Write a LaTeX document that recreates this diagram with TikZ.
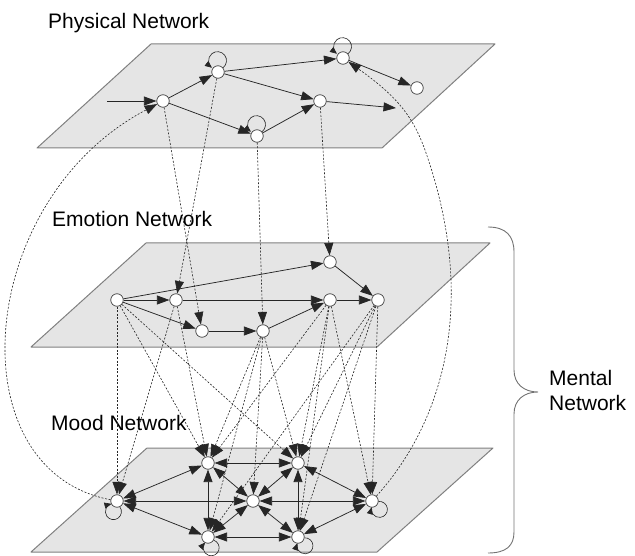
\documentclass[tikz,border=0pt]{standalone}
\usepackage{fontspec}
\setmainfont{Liberation Sans}
\usetikzlibrary{arrows.meta}
\begin{document}
\begin{tikzpicture}[x=1pt,y=-1pt,
  plane/.style={fill=black!10, draw=black!50, line width=1pt, line join=round},
  nd/.style={circle, draw=black!75, fill=white, line width=0.7pt, minimum size=12.5pt, inner sep=0pt},
  sedge/.style={draw=black!85, line width=0.75pt, -{Triangle[length=12.5pt,width=9pt]}},
  bedge/.style={draw=black!85, line width=0.75pt, {Triangle[length=12.5pt,width=9pt]}-{Triangle[length=12.5pt,width=9pt]}},
  dedge/.style={draw=black!85, line width=0.6pt, dash pattern=on 2pt off 1.6pt, -{Triangle[length=12.5pt,width=9pt]}},
  selfloop/.style={draw=black!85, line width=0.6pt, -{Triangle[length=7pt,width=6pt]}},
  lbl/.style={font=\fontsize{21}{24.8}\selectfont, inner sep=0pt},
  brace/.style={draw=black!55, line width=0.9pt}
]
\useasboundingbox (0,0) rectangle (635,556);
% planes
\path[plane] (151,44) -- (495,44) -- (382,148) -- (37,148) -- cycle;
\path[plane] (146,243) -- (490,243) -- (377,347) -- (31,347) -- cycle;
\path[plane] (147,448) -- (493,448) -- (377,552) -- (31,552) -- cycle;
% labels
\node[lbl, anchor=base west] (lphys) at (48,29) {Physical Network};
\node[lbl, anchor=base west] (lemo) at (52,227) {Emotion Network};
\node[lbl, anchor=base west] (lmood) at (51,430) {Mood Network};
\node[lbl, anchor=north west, align=left] (lment) at (549,370.5) {Mental\\Network};
% brace
\draw[brace] (488,227) .. controls (506,227) and (514,236) .. (514,252) -- (514,370)
  .. controls (514,384) and (524,392) .. (538,392)
  .. controls (524,392) and (514,400) .. (514,414) -- (514,532)
  .. controls (514,546) and (506,553) .. (488,553);
% physical nodes
\node[nd] (P1) at (163,101) {};
\node[nd] (P2) at (218,72) {};
\node[nd] (P3) at (343,58) {};
\node[nd] (P4) at (417,88) {};
\node[nd] (P5) at (320,101) {};
\node[nd] (P6) at (257,136) {};
\coordinate (Pin) at (107,101);
\coordinate (Pout) at (396,108);
% emotion nodes
\node[nd] (E1) at (117,300) {};
\node[nd] (E2) at (176,300) {};
\node[nd] (E3) at (202,331) {};
\node[nd] (E4) at (263,331) {};
\node[nd] (E5) at (330,300) {};
\node[nd] (E6) at (378,300) {};
\node[nd] (E7) at (330,262) {};
% mood nodes
\node[nd] (M1) at (117,501) {};
\node[nd] (M2) at (208,463) {};
\node[nd] (M3) at (298,463) {};
\node[nd] (M4) at (253,501) {};
\node[nd] (M5) at (208,537) {};
\node[nd] (M6) at (298,537) {};
\node[nd] (M7) at (372,501) {};
% physical edges
\draw[sedge] (Pin) -- (P1);
\draw[sedge] (P1) -- (P2);
\draw[sedge] (P1) -- (P6);
\draw[sedge] (P2) -- (P3);
\draw[sedge] (P2) -- (P5);
\draw[sedge] (P6) -- (P5);
\draw[sedge] (P3) -- (P4);
\draw[sedge] (P5) -- (Pout);
\draw[selfloop] (P2.40) arc[start angle=-52, end angle=232, radius=9pt];
\draw[selfloop] (P3.40) arc[start angle=-52, end angle=232, radius=9pt];
\draw[selfloop] (P6.40) arc[start angle=-52, end angle=232, radius=9pt];
% emotion edges
\draw[sedge] (E1) -- (E2);
\draw[sedge] (E1) -- (E7);
\draw[sedge] (E1) -- (E3);
\draw[sedge] (E2) -- (E5);
\draw[sedge] (E3) -- (E4);
\draw[sedge] (E4) -- (E5);
\draw[sedge] (E5) -- (E6);
\draw[sedge] (E7) -- (E6);
% mood edges
\draw[bedge] (M1) -- (M2);
\draw[bedge] (M1) -- (M4);
\draw[bedge] (M1) -- (M5);
\draw[bedge] (M2) -- (M3);
\draw[bedge] (M2) -- (M4);
\draw[bedge] (M2) -- (M5);
\draw[bedge] (M3) -- (M4);
\draw[bedge] (M3) -- (M6);
\draw[bedge] (M3) -- (M7);
\draw[bedge] (M4) -- (M5);
\draw[bedge] (M4) -- (M6);
\draw[bedge] (M4) -- (M7);
\draw[bedge] (M5) -- (M6);
\draw[bedge] (M6) -- (M7);
\draw[selfloop] (M1.296) arc[start angle=396, end angle=104, radius=8pt];
\draw[selfloop] (M5.331) arc[start angle=431, end angle=139, radius=8pt];
\draw[selfloop] (M6.353) arc[start angle=453, end angle=161, radius=8pt];
\draw[selfloop] (M7.356) arc[start angle=456, end angle=164, radius=8pt];
% physical -> emotion
\draw[dedge] (P2) -- (E2);
\draw[dedge] (P1) -- (E3);
\draw[dedge] (P6) -- (E4);
\draw[dedge] (P5) -- (E7);
% emotion -> mood
\draw[dedge] (E1) -- (M1);
\draw[dedge] (E1) -- (M2);
\draw[dedge] (E1) -- (M3);
\draw[dedge] (E2) -- (M1);
\draw[dedge] (E2) -- (M2);
\draw[dedge] (E4) -- (M2);
\draw[dedge] (E4) -- (M3);
\draw[dedge] (E4) -- (M4);
\draw[dedge] (E4) -- (M5);
\draw[dedge] (E5) -- (M2);
\draw[dedge] (E5) -- (M3);
\draw[dedge] (E5) -- (M6);
\draw[dedge] (E5) -- (M7);
\draw[dedge] (E6) -- (M3);
\draw[dedge] (E6) -- (M5);
\draw[dedge] (E6) -- (M6);
\draw[dedge] (E6) -- (M7);
% mood -> physical (long curves)
\draw[dedge] (M1) .. controls (-45,470) and (-25,200) .. (P1);
\draw[dedge] (M7) .. controls (445,420) and (478,300) .. (425,150)
  .. controls (413,117) and (398,97) .. (P3);
\end{tikzpicture}
\end{document}
